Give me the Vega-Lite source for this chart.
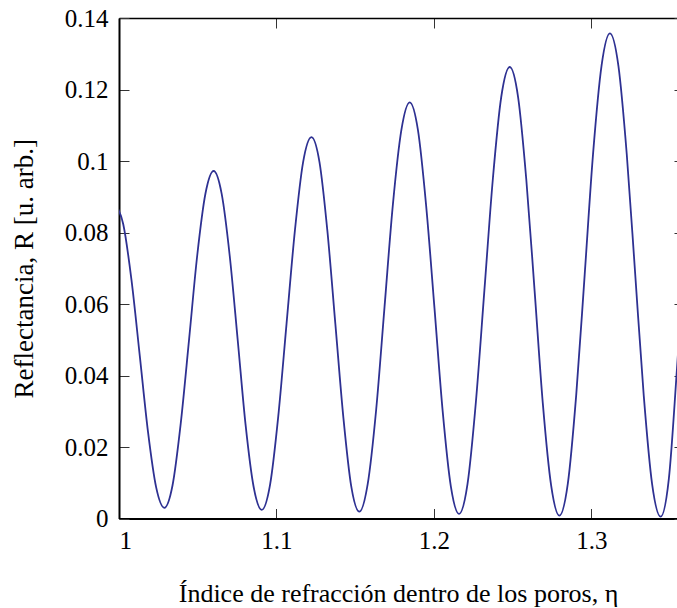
{
  "$schema": "https://vega.github.io/schema/vega-lite/v6.json",
  "width": 558,
  "height": 500.5,
  "autosize": {"type": "none"},
  "padding": {"left": 119, "top": 18, "right": 0, "bottom": 89.5},
  "config": {
    "font": "Liberation Serif",
    "view": {"stroke": null},
    "axis": {
      "grid": false,
      "domainColor": "#000000",
      "domainWidth": 2,
      "tickColor": "#333333",
      "tickWidth": 1,
      "tickSize": -10,
      "labelFont": "Liberation Serif",
      "labelFontSize": 25,
      "labelColor": "#000000",
      "titleFont": "Liberation Serif",
      "titleFontSize": 26,
      "titleFontWeight": "normal",
      "titleColor": "#000000"
    }
  },
  "data": {
    "values": [
      {"eta": 0.9975, "R": 0.0880},
      {"eta": 1.0027, "R": 0.0823},
      {"eta": 1.0079, "R": 0.0668},
      {"eta": 1.0132, "R": 0.0455},
      {"eta": 1.0184, "R": 0.0243},
      {"eta": 1.0236, "R": 0.0087},
      {"eta": 1.0288, "R": 0.0030},
      {"eta": 1.0340, "R": 0.0093},
      {"eta": 1.0392, "R": 0.0266},
      {"eta": 1.0445, "R": 0.0501},
      {"eta": 1.0497, "R": 0.0737},
      {"eta": 1.0549, "R": 0.0909},
      {"eta": 1.0601, "R": 0.0972},
      {"eta": 1.0652, "R": 0.0908},
      {"eta": 1.0703, "R": 0.0735},
      {"eta": 1.0754, "R": 0.0498},
      {"eta": 1.0804, "R": 0.0261},
      {"eta": 1.0855, "R": 0.0088},
      {"eta": 1.0906, "R": 0.0024},
      {"eta": 1.0959, "R": 0.0094},
      {"eta": 1.1011, "R": 0.0285},
      {"eta": 1.1064, "R": 0.0546},
      {"eta": 1.1117, "R": 0.0806},
      {"eta": 1.1169, "R": 0.0997},
      {"eta": 1.1222, "R": 0.1067},
      {"eta": 1.1273, "R": 0.0997},
      {"eta": 1.1323, "R": 0.0805},
      {"eta": 1.1374, "R": 0.0543},
      {"eta": 1.1425, "R": 0.0281},
      {"eta": 1.1475, "R": 0.0089},
      {"eta": 1.1526, "R": 0.0019},
      {"eta": 1.1579, "R": 0.0096},
      {"eta": 1.1633, "R": 0.0305},
      {"eta": 1.1686, "R": 0.0592},
      {"eta": 1.1739, "R": 0.0878},
      {"eta": 1.1793, "R": 0.1087},
      {"eta": 1.1846, "R": 0.1164},
      {"eta": 1.1898, "R": 0.1087},
      {"eta": 1.1950, "R": 0.0876},
      {"eta": 1.2003, "R": 0.0589},
      {"eta": 1.2055, "R": 0.0301},
      {"eta": 1.2107, "R": 0.0090},
      {"eta": 1.2159, "R": 0.0013},
      {"eta": 1.2213, "R": 0.0097},
      {"eta": 1.2266, "R": 0.0326},
      {"eta": 1.2320, "R": 0.0638},
      {"eta": 1.2374, "R": 0.0951},
      {"eta": 1.2427, "R": 0.1179},
      {"eta": 1.2481, "R": 0.1263},
      {"eta": 1.2534, "R": 0.1179},
      {"eta": 1.2586, "R": 0.0949},
      {"eta": 1.2639, "R": 0.0636},
      {"eta": 1.2691, "R": 0.0322},
      {"eta": 1.2744, "R": 0.0092},
      {"eta": 1.2796, "R": 0.0008},
      {"eta": 1.2850, "R": 0.0098},
      {"eta": 1.2903, "R": 0.0345},
      {"eta": 1.2957, "R": 0.0683},
      {"eta": 1.3010, "R": 0.1020},
      {"eta": 1.3064, "R": 0.1267},
      {"eta": 1.3117, "R": 0.1357},
      {"eta": 1.3171, "R": 0.1266},
      {"eta": 1.3224, "R": 0.1019},
      {"eta": 1.3278, "R": 0.0681},
      {"eta": 1.3332, "R": 0.0343},
      {"eta": 1.3385, "R": 0.0096},
      {"eta": 1.3439, "R": 0.0005},
      {"eta": 1.3491, "R": 0.0110},
      {"eta": 1.3543, "R": 0.0420},
      {"eta": 1.3595, "R": 0.0760}
    ]
  },
  "layer": [
    {
      "mark": {"type": "line", "color": "#2E3192", "strokeWidth": 1.8, "interpolate": "monotone", "clip": true},
      "encoding": {
        "x": {
          "field": "eta", "type": "quantitative",
          "scale": {"domain": [1, 1.3543], "nice": false, "zero": false},
          "axis": {
            "orient": "bottom",
            "values": [1, 1.1, 1.2, 1.3],
            "format": "~g",
            "labelPadding": 20,
            "title": "Índice de refracción dentro de los poros, η",
            "titlePadding": 27
          }
        },
        "y": {
          "field": "R", "type": "quantitative",
          "scale": {"domain": [0, 0.14], "nice": false, "zero": false},
          "axis": {
            "orient": "left",
            "values": [0, 0.02, 0.04, 0.06, 0.08, 0.1, 0.12, 0.14],
            "format": "~g",
            "labelPadding": 21,
            "title": "Reflectancia, R [u. arb.]",
            "titleFontSize": 27,
            "titlePadding": 26
          }
        }
      }
    },
    {
      "mark": {"type": "line", "strokeOpacity": 0, "clip": true},
      "encoding": {
        "x": {
          "field": "eta", "type": "quantitative",
          "scale": {"domain": [1, 1.3543], "nice": false, "zero": false},
          "axis": {
            "orient": "top",
            "values": [1, 1.1, 1.2, 1.3],
            "labels": false,
            "title": null,
            "domainWidth": 1.5
          }
        },
        "y": {
          "field": "R", "type": "quantitative",
          "scale": {"domain": [0, 0.14], "nice": false, "zero": false},
          "axis": {
            "orient": "right",
            "offset": 7,
            "values": [0, 0.02, 0.04, 0.06, 0.08, 0.1, 0.12, 0.14],
            "labels": false,
            "title": null
          }
        }
      }
    }
  ],
  "resolve": {"axis": {"x": "independent", "y": "independent"}}
}
